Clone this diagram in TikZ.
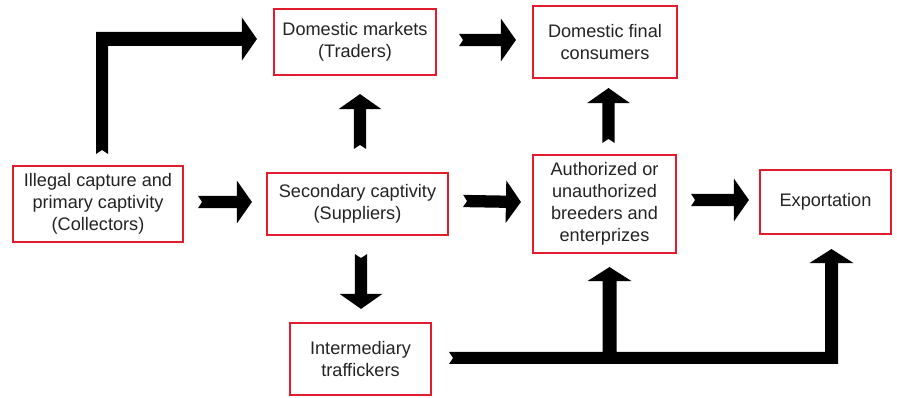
\documentclass[tikz,border=0pt]{standalone}
\usepackage{fontspec}
\setmainfont{Liberation Sans}
\usetikzlibrary{calc}
\definecolor{boxred}{RGB}{226,28,44}
\definecolor{boxtext}{RGB}{35,35,35}

% Straight block arrow with a notched tail, from #1 (tail) to #2 (tip)
\newcommand\blockarrow[2]{%
  \path (#1) coordinate (ba-t) (#2) coordinate (ba-h);
  \path ($(ba-h)!11.25pt!(ba-t)$) coordinate (ba-b);
  \path ($(ba-t)!3pt!(ba-h)$) coordinate (ba-n);
  \fill[arrowfill]
    ($(ba-t)!4.6pt!90:(ba-h)$) -- ($(ba-b)!4.6pt!-90:(ba-t)$)
    -- ($(ba-b)!16pt!-90:(ba-t)$) -- (ba-h)
    -- ($(ba-b)!16pt!90:(ba-t)$) -- ($(ba-b)!4.6pt!90:(ba-t)$)
    -- ($(ba-t)!4.6pt!-90:(ba-h)$) -- (ba-n) -- cycle;
}

\begin{document}
\begin{tikzpicture}[x=0.75pt, y=-0.75pt,
  stage/.style={draw=boxred, line width=1.6pt, fill=white, text=boxtext,
    align=center, inner sep=0pt,
    font=\fontsize{13.6}{16.5}\selectfont},
  arrowfill/.style={fill=black}]
\useasboundingbox (0,0) rectangle (897,398);

% stages
\node[stage, minimum width=170*0.75pt, minimum height=76*0.75pt] (ill) at (98,204)
  {Illegal capture and\\primary captivity\\(Collectors)};
\node[stage, minimum width=181*0.75pt, minimum height=62*0.75pt] (sec) at (357.5,204)
  {Secondary captivity\\(Suppliers)};
\node[stage, minimum width=162*0.75pt, minimum height=66*0.75pt] (dom) at (355,42)
  {Domestic markets\\(Traders)};
\node[stage, minimum width=144*0.75pt, minimum height=72*0.75pt] (fin) at (605,42)
  {Domestic final\\consumers};
\node[stage, minimum width=143*0.75pt, minimum height=98*0.75pt] (aut) at (604.5,204)
  {Authorized or\\unauthorized\\breeders and\\enterprizes};
\node[stage, minimum width=131*0.75pt, minimum height=64*0.75pt] (exp) at (825.5,202)
  {Exportation};
\node[stage, minimum width=141*0.75pt, minimum height=72*0.75pt] (int) at (360.5,359)
  {Intermediary\\traffickers};

% straight flows
\blockarrow{$(ill.east)+(14,-2)$}{$(sec.west)+(-14,-2)$}
\blockarrow{$(sec.east)+(14,-3)$}{$(aut.west)+(-11,-2)$}
\blockarrow{$(aut.east)+(14,-4)$}{$(exp.west)+(-10,-2)$}
\blockarrow{$(dom.east)+(22,-2)$}{$(fin.west)+(-16,-2)$}
\blockarrow{$(sec.north)+(2.5,-23)$}{$(dom.south)+(5,18)$}
\blockarrow{$(aut.north)+(4,-11)$}{$(fin.south)+(3.5,9)$}
\blockarrow{$(sec.south)+(3.5,18)$}{$(int.north)+(0.5,-13)$}

% bent flow: collectors up and over to domestic markets
\coordinate (L0) at ($(ill.north)+(4,-11)$);
\coordinate (L2) at ($(dom.west)+(-16,-3)$);
\coordinate (L1) at (L0 |- L2);
\fill[arrowfill]
  ($(L0)+(-6,0)$) -- ($(L1)+(-6,-7)$) -- ($(L2)+(-15,-7)$)
  -- ($(L2)+(-15,-21.5)$) -- (L2) -- ($(L2)+(-15,21.5)$)
  -- ($(L2)+(-15,7)$) -- ($(L1)+(6,7)$) -- ($(L0)+(6,0)$)
  -- ($(L0)+(0,-4)$) -- cycle;

% branching flow: traffickers to breeders and to exportation
\coordinate (T0) at ($(int.east)+(17,-1)$);
\coordinate (T3) at ($(aut.south)+(5,13)$);
\coordinate (T2) at ($(exp.south)+(6,14)$);
\coordinate (T1) at (T0 -| T3);
\coordinate (T4) at (T0 -| T2);
\fill[arrowfill]
  ($(T0)+(0,-6)$) -- ($(T1)+(-7,-6)$) -- ($(T3)+(-7,14)$)
  -- ($(T3)+(-22,14)$) -- (T3) -- ($(T3)+(22,14)$)
  -- ($(T3)+(7,14)$) -- ($(T1)+(7,-6)$) -- ($(T4)+(-6.5,-6)$)
  -- ($(T2)+(-6.5,14)$) -- ($(T2)+(-22,14)$) -- (T2)
  -- ($(T2)+(22,14)$) -- ($(T2)+(6.5,14)$) -- ($(T4)+(6.5,6)$)
  -- ($(T0)+(0,6)$) -- ($(T0)+(4,0)$) -- cycle;
\end{tikzpicture}
\end{document}
